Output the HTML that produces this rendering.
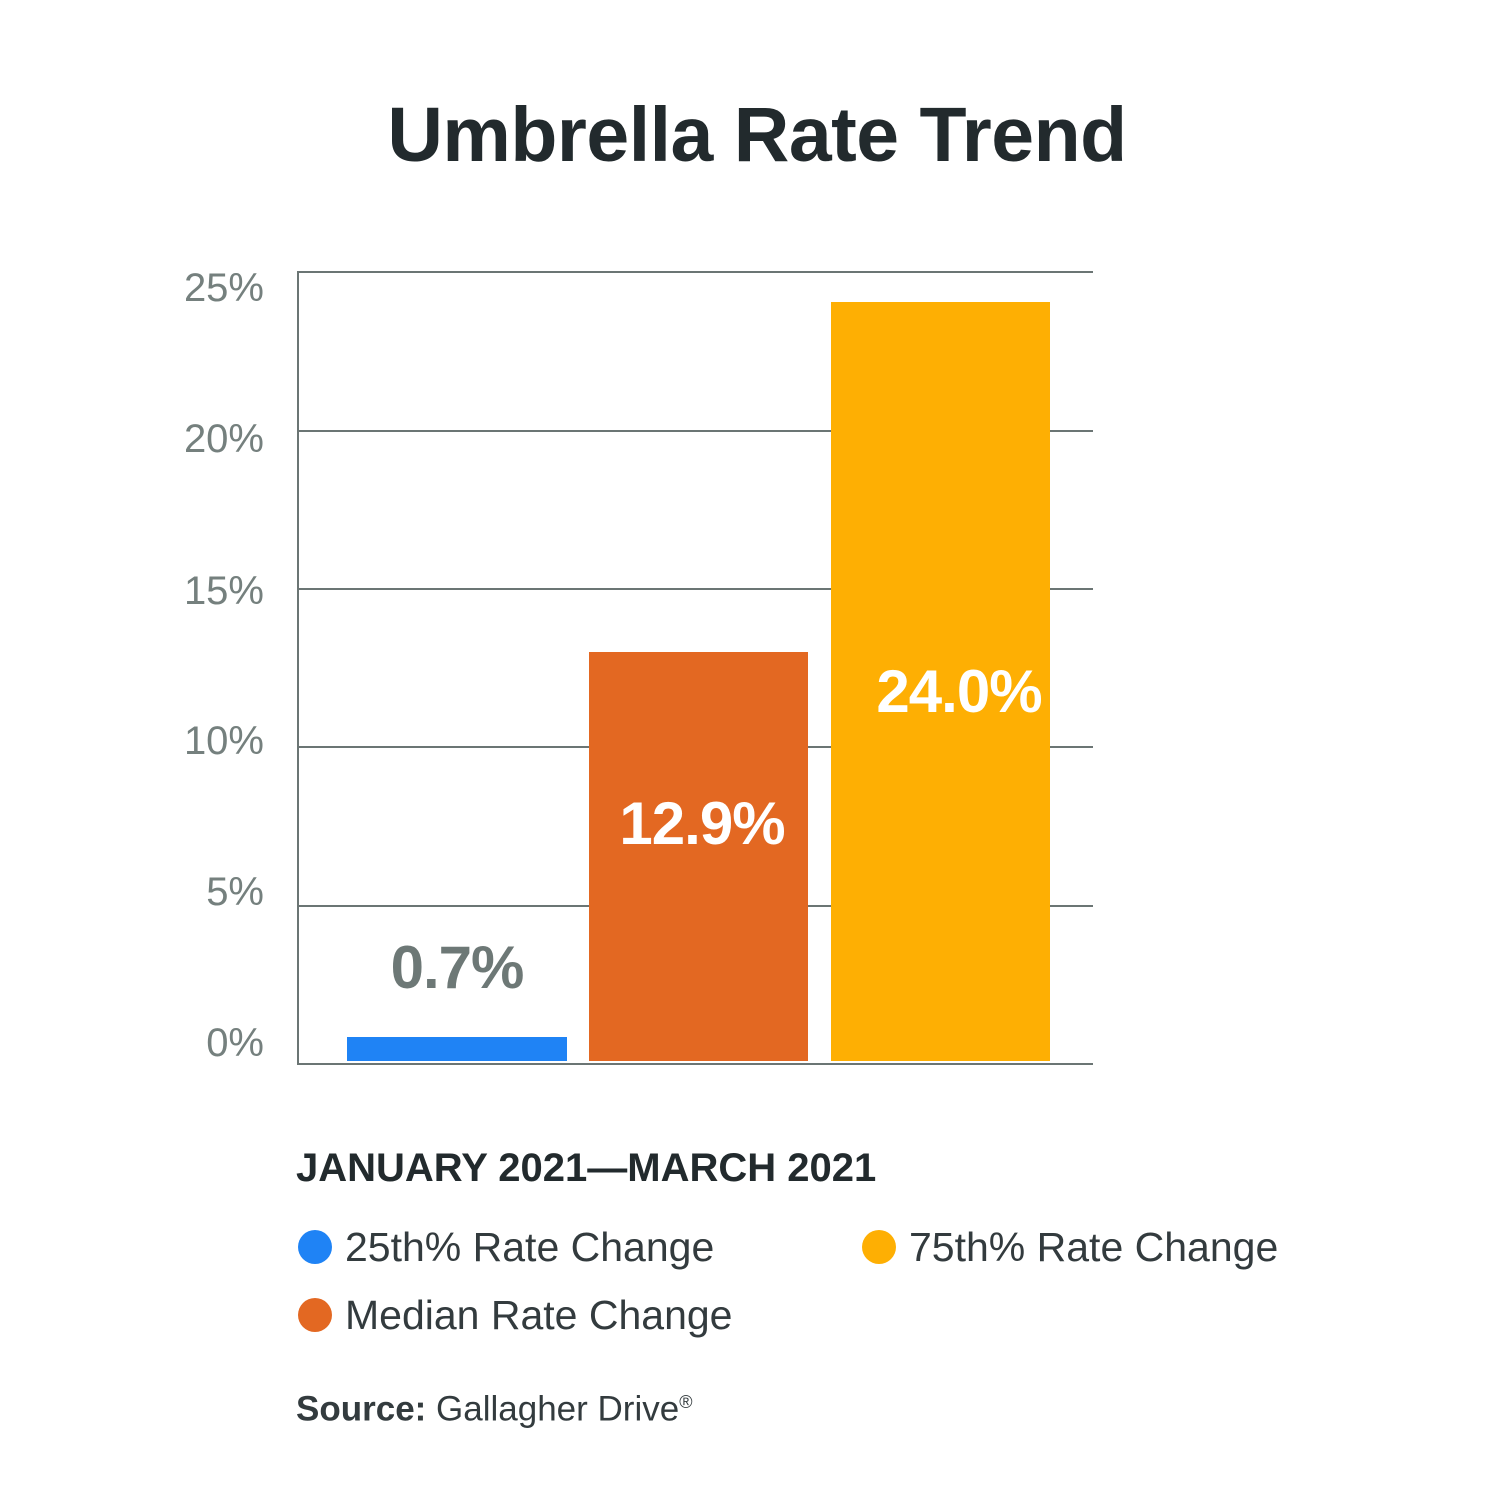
<!DOCTYPE html>
<html><head><style>
body{margin:0;width:1500px;height:1500px;background:#fff;position:relative;font-family:"Liberation Sans",sans-serif;overflow:hidden}
.a{position:absolute}
.grid{position:absolute;left:298px;width:795px;height:2px;background:#6b7574}
.tick{position:absolute;right:1236px;font-size:40px;color:#75807e;text-align:right;line-height:40px}
.bar{position:absolute}
.lbl{position:absolute;font-weight:bold;color:#fff;font-size:60px;text-align:center;line-height:60px;letter-spacing:-1px}
.leg{position:absolute;font-size:41px;color:#333b3e;line-height:42px}
.dot{position:absolute;width:34px;height:34px;border-radius:50%}
</style></head><body>
<div class="a" style="left:0;width:1514px;top:90px;text-align:center;font-size:77px;font-weight:bold;color:#222a2d;line-height:90px;letter-spacing:-0.5px">Umbrella Rate Trend</div>
<div class="grid" style="top:271px"></div>
<div class="grid" style="top:430px"></div>
<div class="grid" style="top:588px"></div>
<div class="grid" style="top:746px"></div>
<div class="grid" style="top:905px"></div>
<div class="grid" style="top:1063px"></div>
<div class="a" style="left:297px;top:271px;width:2px;height:794px;background:#6b7574"></div>
<div class="tick" style="top:268px">25%</div>
<div class="tick" style="top:419px">20%</div>
<div class="tick" style="top:571px">15%</div>
<div class="tick" style="top:721px">10%</div>
<div class="tick" style="top:872px">5%</div>
<div class="tick" style="top:1023px">0%</div>
<div class="bar" style="left:347px;top:1037px;width:220px;height:24px;background:#1f83f5"></div>
<div class="bar" style="left:589px;top:652px;width:219px;height:409px;background:#e36822"></div>
<div class="bar" style="left:831px;top:302px;width:219px;height:759px;background:#feaf03"></div>
<div class="lbl" style="left:347px;width:220px;top:938px;color:#6d7876">0.7%</div>
<div class="lbl" style="left:592px;width:220px;top:794px">12.9%</div>
<div class="lbl" style="left:849px;width:220px;top:662px">24.0%</div>
<div class="a" style="left:296px;top:1147px;font-size:40px;font-weight:bold;color:#222a2d;line-height:42px">JANUARY 2021—MARCH 2021</div>
<div class="dot" style="left:298px;top:1230px;background:#1f83f5"></div>
<div class="leg" style="left:345px;top:1226px">25th% Rate Change</div>
<div class="dot" style="left:862px;top:1230px;background:#feaf03"></div>
<div class="leg" style="left:909px;top:1226px">75th% Rate Change</div>
<div class="dot" style="left:298px;top:1298px;background:#e36822"></div>
<div class="leg" style="left:345px;top:1294px">Median Rate Change</div>
<div class="a" style="left:296px;top:1384px;font-size:35px;color:#333b3e;line-height:36px"><b>Source:</b> Gallagher Drive<sup style="font-size:18px">®</sup></div>
</body></html>
